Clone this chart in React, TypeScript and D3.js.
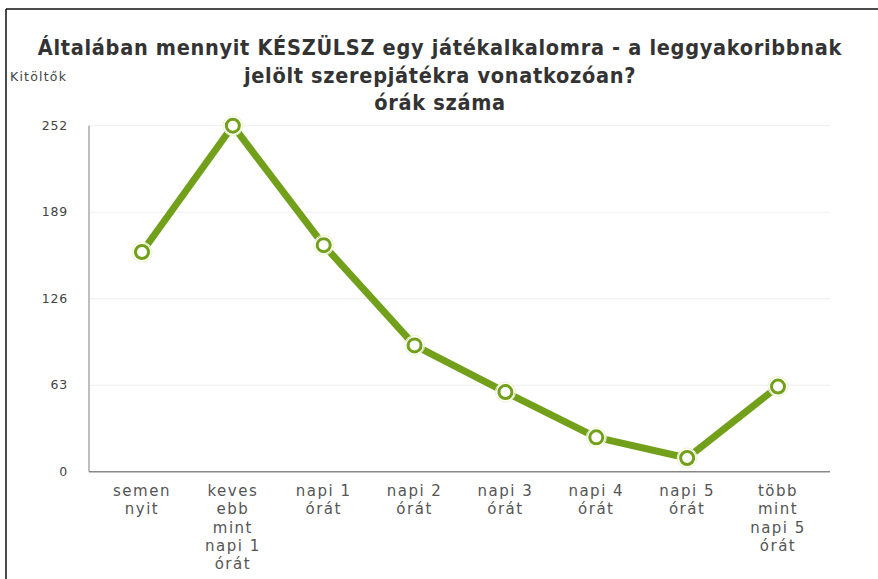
import React from "react";
import * as d3 from "d3";

const categories: string[][] = [
  ["semen", "nyit"],
  ["keves", "ebb", "mint", "napi 1", "órát"],
  ["napi 1", "órát"],
  ["napi 2", "órát"],
  ["napi 3", "órát"],
  ["napi 4", "órát"],
  ["napi 5", "órát"],
  ["több", "mint", "napi 5", "órát"],
];
const values: number[] = [160, 252, 165, 92, 58, 25, 10, 62];
const yTicks: number[] = [0, 63, 126, 189, 252];
const titleLines: string[] = [
  "Általában mennyit KÉSZÜLSZ egy játékalkalomra -  a leggyakoribbnak",
  "jelölt szerepjátékra vonatkozóan?",
  "órák száma",
];
const yAxisTitle = "Kitöltők";

const W = 878;
const H = 579;
const GREEN = "#72a01a";
const TITLE_FONT = "'DejaVu Sans Condensed', 'DejaVu Sans', sans-serif";
const FONT = "'DejaVu Sans', sans-serif";

export default function App() {
  const x = d3.scalePoint<number>().domain(d3.range(categories.length)).range([142, 778]);
  const y = d3.scaleLinear().domain([0, 252]).range([471.7, 125.7]);
  const line = d3
    .line<number>()
    .x((_, i) => x(i)!)
    .y((d) => y(d));

  return (
    <svg width={W} height={H} style={{ position: "absolute", left: 0, top: 0, background: "#fff" }}>
      {/* frame */}
      <line x1={6} x2={W} y1={9} y2={9} stroke="#111" strokeWidth={1.5} />
      <line x1={6} x2={6} y1={9} y2={H} stroke="#111" strokeWidth={1.5} />

      {/* title */}
      {titleLines.map((t, i) => (
        <text
          key={i}
          x={440}
          y={55 + i * 27.5}
          textAnchor="middle"
          fontFamily={TITLE_FONT}
          fontWeight="bold"
          fontSize={21.5}
          letterSpacing={0.7}
          fill="#333"
        >
          {t}
        </text>
      ))}

      <text x={10} y={81} fontFamily={FONT} fontSize={12.5} letterSpacing={1.2} fill="#444">
        {yAxisTitle}
      </text>

      {/* gridlines */}
      {yTicks.map((t) => (
        <g key={t}>
          {t > 0 && (
            <line x1={89} x2={830} y1={y(t)} y2={y(t)} stroke="#eeeeee" strokeWidth={1} />
          )}
          <text
            x={68}
            y={y(t) + 4}
            textAnchor="end"
            fontFamily={FONT}
            fontSize={12.5}
            letterSpacing={0.8}
            fill="#444"
          >
            {t}
          </text>
        </g>
      ))}

      {/* axes */}
      <line x1={89} x2={89} y1={y(252)} y2={y(0)} stroke="#aaa" strokeWidth={1.5} />
      <line x1={89} x2={830} y1={y(0)} y2={y(0)} stroke="#888" strokeWidth={1.5} />

      {/* x labels */}
      {categories.map((lines, i) => (
        <text
          key={i}
          x={x(i)}
          textAnchor="middle"
          fontFamily={FONT}
          fontSize={15}
          letterSpacing={1.5}
          fill="#555"
        >
          {lines.map((l, j) => (
            <tspan key={j} x={x(i)} y={496 + j * 18.3}>
              {l}
            </tspan>
          ))}
        </text>
      ))}

      {/* line */}
      <path d={line(values)!} fill="none" stroke={GREEN} strokeWidth={7} strokeLinejoin="round" />
      {values.map((v, i) => (
        <g key={i}>
          <circle cx={x(i)} cy={y(v)} r={9.5} fill="#fff" opacity={0.95} />
          <circle cx={x(i)} cy={y(v)} r={10} fill="none" stroke="#eef5c8" strokeWidth={1} />
          <circle cx={x(i)} cy={y(v)} r={6.5} fill="#fff" stroke={GREEN} strokeWidth={3} />
        </g>
      ))}
    </svg>
  );
}
